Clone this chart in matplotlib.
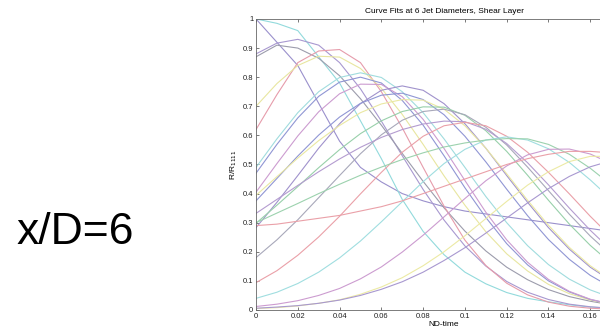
import numpy as np
import matplotlib.pyplot as plt

plt.rcParams['font.family'] = ['Liberation Sans', 'DejaVu Sans']

# time grid of the fitted curves (ND-time)
t = [0.00, 0.01, 0.02, 0.03, 0.04, 0.05, 0.06, 0.07, 0.08, 0.09,
     0.10, 0.11, 0.12, 0.13, 0.14, 0.15, 0.16, 0.17, 0.18]

# R/R1111 curves
c_purple_tail = [1.00, 0.92, 0.84, 0.71, 0.58, 0.49, 0.44, 0.40, 0.375, 0.355,
                 0.34, 0.33, 0.32, 0.31, 0.30, 0.29, 0.28, 0.27, 0.265]
c_cyan_top = [1.00, 0.985, 0.96, 0.87, 0.78, 0.65, 0.52, 0.38, 0.27, 0.19,
              0.13, 0.09, 0.06, 0.04, 0.028, 0.018, 0.01, 0.006, 0.004]
c_purple_a = [0.88, 0.917, 0.93, 0.91, 0.85, 0.76, 0.649, 0.53, 0.414, 0.309,
              0.22, 0.151, 0.098, 0.061, 0.036, 0.02, 0.011, 0.006, 0.003]
c_grey_a = [0.87, 0.91, 0.90, 0.865, 0.805, 0.726, 0.635, 0.538, 0.442, 0.351,
            0.271, 0.203, 0.147, 0.104, 0.07, 0.046, 0.03, 0.018, 0.011]
c_red_a = [0.62, 0.74, 0.85, 0.89, 0.895, 0.85, 0.75, 0.626, 0.49, 0.357,
           0.24, 0.153, 0.092, 0.052, 0.027, 0.013, 0.006, 0.003, 0.001]
c_yellow_a = [0.70, 0.778, 0.84, 0.872, 0.869, 0.83, 0.762, 0.672, 0.569, 0.461,
              0.36, 0.269, 0.193, 0.134, 0.088, 0.056, 0.034, 0.020, 0.011]
c_cyan_a = [0.49, 0.588, 0.678, 0.75, 0.799, 0.815, 0.799, 0.75, 0.678, 0.588,
            0.49, 0.39, 0.30, 0.221, 0.156, 0.106, 0.069, 0.043, 0.026]
c_blue_a = [0.47, 0.569, 0.66, 0.734, 0.783, 0.80, 0.78, 0.72, 0.635, 0.53,
            0.42, 0.318, 0.228, 0.155, 0.10, 0.062, 0.036, 0.02, 0.01]
c_magenta_a = [0.405, 0.503, 0.598, 0.681, 0.743, 0.776, 0.775, 0.733, 0.655, 0.555,
               0.445, 0.336, 0.241, 0.164, 0.105, 0.064, 0.037, 0.02, 0.01]
c_purple_b = [0.283, 0.37, 0.462, 0.556, 0.64, 0.709, 0.755, 0.77, 0.755, 0.709,
              0.64, 0.556, 0.462, 0.37, 0.283, 0.209, 0.147, 0.10, 0.065]
c_blue_b = [0.375, 0.452, 0.529, 0.601, 0.663, 0.71, 0.738, 0.745, 0.723, 0.671,
            0.597, 0.509, 0.415, 0.324, 0.242, 0.174, 0.119, 0.078, 0.049]
c_yellow_b = [0.394, 0.458, 0.522, 0.582, 0.634, 0.678, 0.708, 0.723, 0.721, 0.69,
              0.633, 0.556, 0.468, 0.377, 0.291, 0.215, 0.152, 0.103, 0.067]
c_green_a = [0.298, 0.36, 0.424, 0.489, 0.551, 0.606, 0.65, 0.682, 0.698, 0.697,
             0.669, 0.616, 0.545, 0.463, 0.377, 0.295, 0.222, 0.160, 0.111]
c_grey_b = [0.18, 0.241, 0.31, 0.386, 0.462, 0.537, 0.602, 0.652, 0.682, 0.69,
            0.671, 0.628, 0.567, 0.491, 0.41, 0.329, 0.254, 0.189, 0.135]
c_purple_c = [0.332, 0.38, 0.428, 0.475, 0.519, 0.559, 0.593, 0.62, 0.639, 0.649,
              0.647, 0.621, 0.572, 0.506, 0.43, 0.35, 0.274, 0.206, 0.149]
c_red_b = [0.094, 0.135, 0.188, 0.251, 0.322, 0.399, 0.473, 0.542, 0.597, 0.633,
           0.645, 0.633, 0.597, 0.542, 0.473, 0.399, 0.322, 0.251, 0.188]
c_cyan_b = [0.04, 0.061, 0.091, 0.13, 0.179, 0.237, 0.303, 0.372, 0.441, 0.503,
            0.552, 0.584, 0.595, 0.584, 0.554, 0.507, 0.447, 0.381, 0.314]
c_green_b = [0.30, 0.333, 0.366, 0.40, 0.432, 0.463, 0.491, 0.517, 0.54, 0.56,
             0.574, 0.584, 0.589, 0.588, 0.569, 0.535, 0.487, 0.43, 0.368]
c_magenta_b = [0.012, 0.02, 0.032, 0.05, 0.074, 0.107, 0.148, 0.199, 0.257, 0.32,
               0.383, 0.444, 0.495, 0.533, 0.552, 0.553, 0.536, 0.503, 0.458]
c_red_c = [0.29, 0.295, 0.305, 0.315, 0.325, 0.34, 0.355, 0.375, 0.40, 0.425,
           0.45, 0.475, 0.50, 0.52, 0.535, 0.545, 0.545, 0.54, 0.53]
c_yellow_c = [0.005, 0.008, 0.014, 0.023, 0.035, 0.054, 0.079, 0.111, 0.152, 0.20,
              0.255, 0.314, 0.373, 0.429, 0.475, 0.51, 0.528, 0.528, 0.511]
c_purple_d = [0.006, 0.01, 0.015, 0.023, 0.034, 0.05, 0.071, 0.097, 0.13, 0.17,
              0.214, 0.264, 0.316, 0.368, 0.417, 0.459, 0.492, 0.513, 0.52]

curves = [c_purple_tail, c_cyan_top, c_purple_a, c_grey_a, c_red_a, c_yellow_a,
          c_cyan_a, c_blue_a, c_magenta_a, c_purple_b, c_blue_b, c_yellow_b,
          c_green_a, c_grey_b, c_purple_c, c_red_b, c_cyan_b, c_green_b,
          c_magenta_b, c_red_c, c_yellow_c, c_purple_d]
# faded matlab-ish line colours
colors = ['#9a90cc', '#92dadc', '#a898d0', '#9c9cac', '#e69cab', '#e8e6a0',
          '#a0dcde', '#9096d4', '#cc9cd0', '#a092cc', '#9096d4', '#eae8a2',
          '#98d0aa', '#a8a8ba', '#b49cd0', '#eaa0a8', '#a0dee0', '#9cd2ae',
          '#cc9cd0', '#eaa0a8', '#eceaa4', '#a898d0']

fig = plt.figure(figsize=(6, 3.34), dpi=100)
fig.text(0.028, 0.268, 'x/D=6', fontsize=32, color='black')

# axes runs past the right edge, like the cropped original
ax = fig.add_axes([0.4267, 0.0719, 0.6267, 0.8713])
for y, col in zip(curves, colors):
    ax.plot(t, y, color=col, lw=0.8)

ax.set_xlim(0, 0.18)
ax.set_ylim(0, 1)
ax.set_xticks(np.arange(0, 0.161, 0.02))
ax.set_xticklabels(['0', '0.02', '0.04', '0.06', '0.08', '0.1', '0.12', '0.14', '0.16'])
ax.set_yticks(np.arange(0, 1.01, 0.1))
ax.set_yticklabels(['0', '0.1', '0.2', '0.3', '0.4', '0.5', '0.6', '0.7', '0.8', '0.9', '1'])
ax.tick_params(direction='in', length=2.5, width=0.5, labelsize=5.5, pad=2,
               top=True, right=True, colors='#444444', labelcolor='#222222')
for s in ax.spines.values():
    s.set_linewidth(0.6)
    s.set_color('#666666')

ax.set_title('Curve Fits at 6 Jet Diameters, Shear Layer', fontsize=6, pad=4)
ax.set_xlabel('ND-time', fontsize=6, labelpad=1)
ax.set_ylabel('R/R$_{1111}$', fontsize=6, labelpad=3)

fig.savefig('out.png', dpi=100)
